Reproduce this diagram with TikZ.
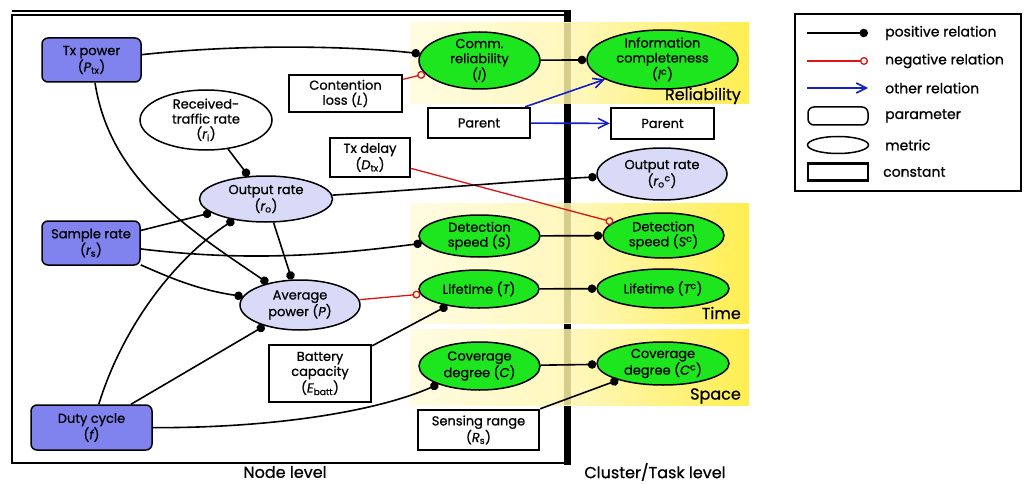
\documentclass[tikz,border=0pt]{standalone}
\usepackage{fontspec}
\setmainfont{Poppins}[UprightFeatures={FakeBold=0.8}, ItalicFeatures={FakeBold=0.8}]
\usetikzlibrary{shapes.geometric,arrows.meta}

\definecolor{paramfill}{RGB}{128,130,238}
\definecolor{metricfill}{RGB}{216,218,248}
\definecolor{goalfill}{RGB}{30,230,30}
\definecolor{bandpale}{RGB}{255,252,226}
\definecolor{bandmid}{RGB}{255,247,185}
\definecolor{bandbright}{RGB}{255,238,80}
\definecolor{negline}{RGB}{220,20,20}
\definecolor{othline}{RGB}{20,30,200}
\definecolor{khaki}{RGB}{214,204,140}

\begin{document}
\begin{tikzpicture}[x=1pt,y=-1pt,
  font=\fontsize{13}{15}\selectfont,
  param/.style={draw, line width=1.5pt, rounded corners=6pt, fill=paramfill,
    align=center, inner sep=0pt},
  metric/.style={ellipse, draw, line width=1.5pt, fill=white, align=center, inner sep=-3pt},
  agg/.style={metric, fill=metricfill},
  goal/.style={metric, fill=goalfill},
  constbox/.style={draw, line width=2.4pt, fill=white, align=center, inner sep=0pt},
  posrel/.style={line width=1.6pt, -{Circle[length=8.5pt]}},
  negrel/.style={line width=1.3pt, draw=negline, -{Circle[open, length=8pt, line width=1.3pt]}},
  othrel/.style={line width=1.6pt, draw=othline, -{Straight Barb[length=10pt, width=10pt, line width=1.6pt]}},
  band/.style={left color=bandpale, right color=bandbright, middle color=bandmid},
  biglabel/.style={font=\fontsize{16}{18}\selectfont, inner sep=0pt},
  legendtext/.style={font=\fontsize{14}{16}\selectfont, anchor=west, inner sep=0pt}
]
\useasboundingbox (0,0) rectangle (1025,484);

% frame of the node level and the dividing bar
\draw[line width=1.2pt] (12,11) -- (568,11);
\draw[line width=2.4pt] (567,15) -- (12,15) -- (12,463) -- (567,463);
\fill (564,10) rectangle (571,465);

% shaded bands of the cluster/task goals
\shade[band] (410,23) rectangle (749,104);
\shade[band] (410,203) rectangle (749,323);
\shade[band] (410,329) rectangle (749,405);
\fill[khaki] (564,23) rectangle (571,104);
\fill[khaki] (564,203) rectangle (571,323);
\fill[khaki] (564,329) rectangle (571,405);

\node[biglabel, anchor=east] (lblrel) at (741,96) {Reliability};
\node[biglabel, anchor=east] (lbltime) at (741,313) {Time};
\node[biglabel, anchor=east] (lblspace) at (741,396) {Space};

% node-level parameters
\node[param, minimum width=99pt, minimum height=44pt] (txp) at (91.5,60) {Tx power\\({\itshape P}\textsubscript{tx})};
\node[param, minimum width=98pt, minimum height=44pt] (samp) at (91,243) {Sample rate\\({\itshape r}\textsubscript{s})};
\node[param, minimum width=121pt, minimum height=45pt] (duty) at (91.5,427.5) {Duty cycle\\({\itshape f})};

% node-level metrics
\node[metric, minimum width=132pt, minimum height=60pt] (rtr) at (206,120) {Received-\\traffic rate\\({\itshape r}\textsubscript{i})};
\node[agg, minimum width=133pt, minimum height=46pt] (outr) at (266,199) {Output rate\\({\itshape r}\textsubscript{o})};
\node[agg, minimum width=120pt, minimum height=50pt] (avgp) at (300,305) {Average\\power ({\itshape P})};

% constants
\node[constbox, minimum width=113pt, minimum height=37pt] (cont) at (345.5,93.5) {Contention\\loss ({\itshape L})};
\node[constbox, minimum width=80pt, minimum height=39pt] (txd) at (370,157.5) {Tx delay\\({\itshape D}\textsubscript{tx})};
\node[constbox, minimum width=102pt, minimum height=57pt] (batt) at (320,373.5) {Battery\\capacity\\({\itshape E}\textsubscript{batt})};
\node[constbox, minimum width=102pt, minimum height=30pt] (par1) at (479,123) {Parent};
\node[constbox, minimum width=103pt, minimum height=31pt] (par2) at (662.5,123.5) {Parent};
\node[constbox, minimum width=121pt, minimum height=40pt] (sens) at (478.5,430) {Sensing range\\({\itshape R}\textsubscript{s})};

% goal metrics at node level
\node[goal, minimum width=121pt, minimum height=57pt] (comm) at (479.5,60.5) {Comm.\\reliability\\({\itshape I})};
\node[goal, minimum width=121pt, minimum height=42pt] (dets) at (479.5,236) {Detection\\speed ({\itshape S})};
\node[goal, minimum width=120pt, minimum height=38pt] (life) at (479,289) {Lifetime ({\itshape T})};
\node[goal, minimum width=121pt, minimum height=48pt] (cov) at (479.5,366) {Coverage\\degree ({\itshape C})};

% goal metrics at cluster/task level
\node[goal, minimum width=151pt, minimum height=59pt] (info) at (662.5,59.5) {Information\\completeness\\({\itshape I}\textsuperscript{c})};
\node[agg, minimum width=130pt, minimum height=52pt] (outc) at (662,174) {Output rate\\({\itshape r}\textsubscript{o}\textsuperscript{c})};
\node[goal, minimum width=121pt, minimum height=45pt] (detc) at (663.5,235.5) {Detection\\speed ({\itshape S}\textsuperscript{c})};
\node[goal, minimum width=132pt, minimum height=39pt] (lifec) at (663,288.5) {Lifetime ({\itshape T}\textsuperscript{c})};
\node[goal, minimum width=132pt, minimum height=43pt] (covc) at (663,363.5) {Coverage\\degree ({\itshape C}\textsuperscript{c})};

% relations
\draw[posrel] (txp) .. controls (260,42) and (370,48) .. (comm);
\draw[negrel] (cont) -- (comm);
\draw[posrel] (comm) -- (info);
\draw[othrel] ([xshift=-6pt]par1.north east) -- (info);
\draw[othrel] (par1) -- (par2);
\draw[negrel] (txd) -- (detc);
\draw[posrel] (outr) .. controls (420,190) and (530,180) .. (outc);
\draw[posrel] (rtr) -- (outr);
\draw[posrel] (samp) -- (outr);
\draw[posrel] (duty) .. controls (125,320) and (180,255) .. (outr);
\draw[posrel] (txp) .. controls (110,180) and (190,230) .. (avgp);
\draw[posrel] (outr) -- (avgp);
\draw[posrel] (samp) .. controls (175,280) and (200,290) .. (avgp);
\draw[posrel] (samp) .. controls (250,262) and (330,255) .. (dets);
\draw[posrel] (duty) -- (avgp);
\draw[negrel] (avgp) -- (life);
\draw[posrel] (batt) -- (life);
\draw[posrel] (duty) .. controls (280,428) and (380,410) .. (cov);
\draw[posrel] (dets) -- (detc);
\draw[posrel] (life) -- (lifec);
\draw[posrel] (cov) -- (covc);
\draw[posrel] (sens.north east) -- (covc);

% level captions
\node[biglabel] (lblnode) at (285,472) {Node level};
\node[biglabel] (lblcluster) at (655,472) {Cluster/Task level};

% legend
\draw[line width=1.2pt] (795,14) rectangle (1021,191);
\coordinate (lgpa) at (807,33);  \coordinate (lgpb) at (868,33);
\coordinate (lgna) at (807,61);  \coordinate (lgnb) at (868,61);
\coordinate (lgoa) at (807,88);  \coordinate (lgob) at (868,88);
\draw[posrel] (lgpa) -- (lgpb);
\draw[negrel] (lgna) -- (lgnb);
\draw[othrel] (lgoa) -- (lgob);
\node[draw, line width=1.5pt, rounded corners=6pt, minimum width=60pt, minimum height=18pt, inner sep=0pt] (lgparam) at (838,116) {};
\node[ellipse, draw, line width=1.5pt, minimum width=61pt, minimum height=17pt, inner sep=0pt] (lgmetric) at (838,145) {};
\node[draw, line width=2.4pt, minimum width=60pt, minimum height=17pt, inner sep=0pt] (lgconst) at (838,172) {};
\node[legendtext] (lgt1) at (885,33) {positive relation};
\node[legendtext] (lgt2) at (885,61) {negative relation};
\node[legendtext] (lgt3) at (885,88) {other relation};
\node[legendtext] (lgt4) at (885,116) {parameter};
\node[legendtext] (lgt5) at (885,145) {metric};
\node[legendtext] (lgt6) at (883,172) {constant};
\end{tikzpicture}
\end{document}
